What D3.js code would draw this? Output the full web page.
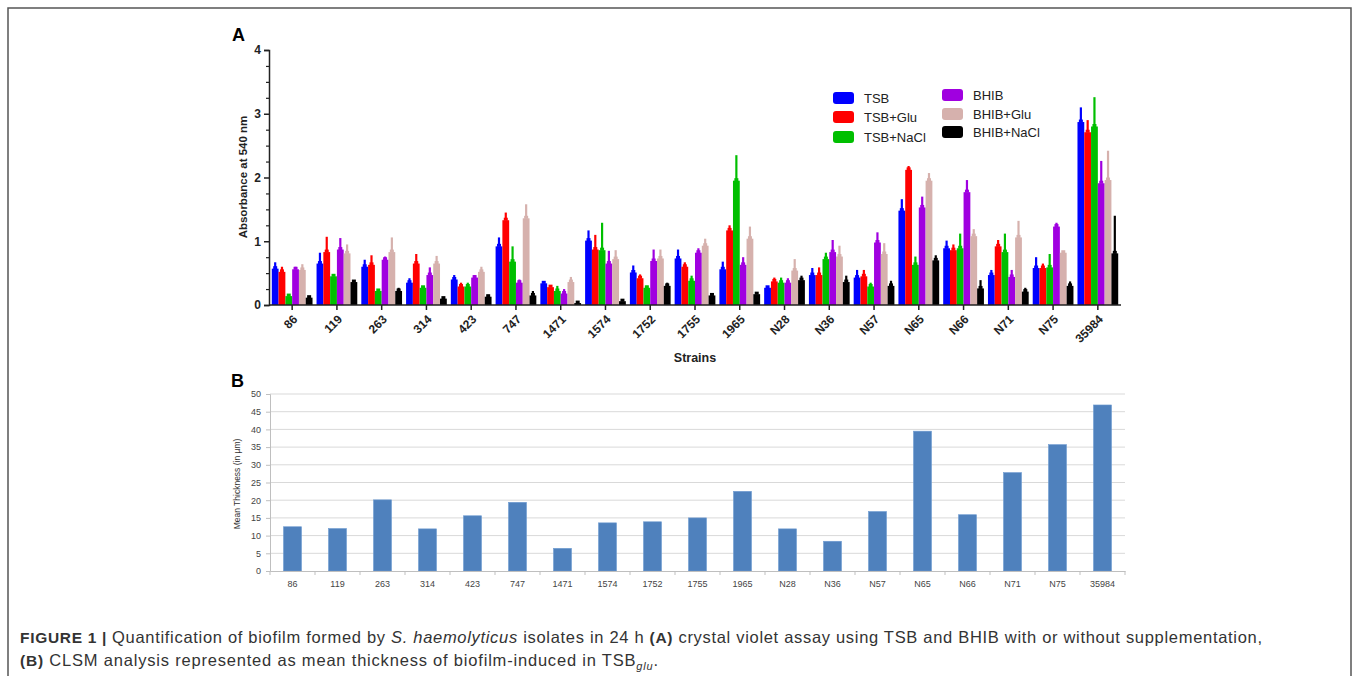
<!DOCTYPE html>
<html>
<head>
<meta charset="UTF-8">
<title>Figure 1</title>
<script src="https://cdn.jsdelivr.net/npm/d3@7"></script>
<style>
 body { margin: 0; background: #fff; }
 svg text { font-family: "Liberation Sans", Arial, sans-serif; }
</style>
</head>
<body>
<svg id="fig" width="1357" height="676"></svg>
<script>
// ---- data ----
var strains = ["86","119","263","314","423","747","1471","1574","1752","1755","1965","N28","N36","N57","N65","N66","N71","N75","35984"];
var seriesNames = ["TSB","TSB+Glu","TSB+NaCl","BHIB","BHIB+Glu","BHIB+NaCl"];
var seriesColors = ["#0000ff","#ff0000","#00bf00","#a000e0","#d6b1ad","#000000"];

var tsb      = [0.57,0.65,0.60,0.35,0.40,0.92,0.34,1.01,0.51,0.73,0.56,0.27,0.47,0.43,1.48,0.89,0.47,0.58,2.87];
var tsbErr   = [0.10,0.17,0.11,0.07,0.07,0.14,0.01,0.16,0.11,0.14,0.12,0.02,0.11,0.12,0.18,0.12,0.08,0.17,0.23];
var tsbGlu   = [0.52,0.83,0.63,0.65,0.29,1.33,0.28,0.87,0.42,0.60,1.17,0.37,0.47,0.45,2.12,0.86,0.92,0.58,2.71];
var tsbGluErr= [0.08,0.24,0.15,0.15,0.06,0.12,0.02,0.23,0.06,0.07,0.08,0.06,0.12,0.10,0.06,0.09,0.10,0.07,0.19];
var tsbNa    = [0.14,0.45,0.22,0.27,0.29,0.68,0.22,0.86,0.27,0.38,1.95,0.35,0.72,0.29,0.63,0.89,0.83,0.59,2.80];
var tsbNaErr = [0.02,0.03,0.03,0.02,0.06,0.24,0.08,0.43,0.03,0.08,0.40,0.08,0.10,0.06,0.13,0.23,0.29,0.21,0.46];
var bhib     = [0.56,0.87,0.71,0.47,0.43,0.35,0.18,0.65,0.69,0.82,0.63,0.35,0.83,0.98,1.53,1.77,0.44,1.23,1.91];
var bhibErr  = [0.04,0.18,0.05,0.12,0.04,0.05,0.07,0.20,0.18,0.07,0.12,0.07,0.19,0.16,0.17,0.19,0.11,0.06,0.35];
var bhibGlu  = [0.55,0.81,0.83,0.65,0.52,1.36,0.36,0.72,0.73,0.93,1.04,0.54,0.76,0.80,1.95,1.08,1.06,0.82,1.96];
var bhibGluErr=[0.09,0.14,0.23,0.12,0.08,0.22,0.08,0.14,0.14,0.11,0.19,0.18,0.17,0.17,0.12,0.11,0.26,0.01,0.46];
var bhibNa   = [0.115,0.36,0.22,0.10,0.13,0.15,0.03,0.06,0.30,0.15,0.17,0.39,0.36,0.30,0.70,0.26,0.21,0.30,0.81];
var bhibNaErr= [0.025,0.03,0.05,0.02,0.03,0.07,0.01,0.03,0.05,0.01,0.01,0.07,0.10,0.08,0.08,0.13,0.06,0.07,0.59];

var thickness = [12.5,12.0,20.1,11.9,15.6,19.4,6.4,13.6,13.9,15.0,22.5,11.9,8.4,16.8,39.5,15.9,27.8,35.7,46.9];

var absTicks = [0,1,2,3,4];
var thickTicks = [0,5,10,15,20,25,30,35,40,45,50];

var seriesVals = [tsb, tsbGlu, tsbNa, bhib, bhibGlu, bhibNa];
var seriesErrs = [tsbErr, tsbGluErr, tsbNaErr, bhibErr, bhibGluErr, bhibNaErr];

var svg = d3.select("#fig");

// figure frame
svg.append("rect").attr("x", 8).attr("y", 8).attr("width", 1343).attr("height", 680)
  .attr("fill", "none").attr("stroke", "#555").attr("stroke-width", 1.5);

// ================= panel A =================
var xA = d3.scaleBand().domain(strains).range([270, 1120]).paddingInner(0.09).paddingOuter(0.04);
var xSub = d3.scaleBand().domain(seriesNames).range([0, xA.bandwidth()]);
var yA = d3.scaleLinear().domain([0, 4]).range([305, 50]);

var rows = [];
strains.forEach(function(s, i) {
  seriesNames.forEach(function(k, j) {
    rows.push({strain: s, key: k, v: seriesVals[j][i], e: seriesErrs[j][i], c: seriesColors[j]});
  });
});

var gA = svg.append("g");
// error whiskers
gA.selectAll("line.err").data(rows).enter().append("line")
  .attr("x1", d => xA(d.strain) + xSub(d.key) + xSub.bandwidth() / 2)
  .attr("x2", d => xA(d.strain) + xSub(d.key) + xSub.bandwidth() / 2)
  .attr("y1", d => yA(d.v))
  .attr("y2", d => yA(d.v + d.e))
  .attr("stroke", d => d.c).attr("stroke-width", 2.2);
// little shoulder at bar top
gA.selectAll("rect.cap").data(rows).enter().append("rect")
  .attr("x", d => xA(d.strain) + xSub(d.key) + xSub.bandwidth() / 2 - 2)
  .attr("y", d => yA(d.v) - 2.5)
  .attr("width", 4).attr("height", 3)
  .attr("fill", d => d.c);
gA.selectAll("rect.bar").data(rows).enter().append("rect")
  .attr("x", d => xA(d.strain) + xSub(d.key))
  .attr("y", d => yA(d.v))
  .attr("width", xSub.bandwidth())
  .attr("height", d => yA(0) - yA(d.v))
  .attr("fill", d => d.c);

// y axis A
var yAxA = d3.axisLeft(yA).tickValues(absTicks).tickSize(5).tickFormat(d3.format("d"));
var gy = svg.append("g").attr("transform", "translate(269,0)").call(yAxA);
gy.selectAll(".tick text").attr("font-size", 12).attr("font-weight", "bold").attr("fill", "#222");
gy.select(".domain").attr("stroke", "#222").attr("stroke-width", 1.5);
gy.selectAll(".tick line").attr("stroke", "#222").attr("stroke-width", 1.5);
var minor = svg.append("g").attr("transform", "translate(269,0)")
  .call(d3.axisLeft(yA).tickValues(d3.range(0, 4, 0.25).filter(v => v % 1 !== 0)).tickSize(3).tickFormat(""));
minor.select(".domain").remove();
minor.selectAll(".tick line").attr("stroke", "#222").attr("stroke-width", 1.2);

// x axis A
var xAxA = d3.axisBottom(xA).tickSize(5).tickSizeOuter(0);
var gx = svg.append("g").attr("transform", "translate(0,305)").call(xAxA);
gx.select(".domain").attr("stroke", "#222").attr("stroke-width", 1.5).attr("d", "M269,0H1121");
gx.selectAll(".tick line").attr("stroke", "#222").attr("stroke-width", 1.5);
gx.selectAll(".tick text")
  .attr("font-size", 12).attr("font-weight", "bold").attr("fill", "#222")
  .attr("text-anchor", "end").attr("dy", 0).attr("y", 0)
  .attr("transform", "translate(6,15) rotate(-45)");

svg.append("text").attr("x", 695).attr("y", 362).attr("text-anchor", "middle")
  .attr("font-size", 12.5).attr("font-weight", "bold").attr("fill", "#222").text("Strains");
svg.append("text").attr("transform", "translate(247,177) rotate(-90)").attr("text-anchor", "middle")
  .attr("font-size", 11.5).attr("font-weight", "bold").attr("fill", "#222").text("Absorbance at 540 nm");
svg.append("text").attr("x", 232).attr("y", 41).attr("font-size", 18).attr("font-weight", "bold").text("A");

// legend A
var legPos = [[833,98],[833,117],[833,137],[942,95],[942,114],[942,132]];
var leg = svg.append("g").selectAll("g").data(seriesNames).enter().append("g")
  .attr("transform", (d, i) => "translate(" + legPos[i][0] + "," + legPos[i][1] + ")");
leg.append("rect").attr("x", 0).attr("y", -6).attr("width", 21).attr("height", 12).attr("rx", 3)
  .attr("fill", (d, i) => seriesColors[i]);
leg.append("text").attr("x", 31).attr("y", 5).attr("font-size", 13).attr("fill", "#222").text(d => d);

// ================= panel B =================
var xB = d3.scaleBand().domain(strains).range([270, 1125]).paddingInner(0.6).paddingOuter(0.3);
var xBedge = d3.scaleBand().domain(strains).range([270, 1125]);
var yB = d3.scaleLinear().domain([0, 50]).range([571, 394]);

svg.append("g").selectAll("line").data(thickTicks.slice(1)).enter().append("line")
  .attr("x1", 270).attr("x2", 1125).attr("y1", d => yB(d)).attr("y2", d => yB(d))
  .attr("stroke", "#d9d9d9").attr("stroke-width", 1);

svg.append("g").selectAll("rect").data(thickness).enter().append("rect")
  .attr("x", (d, i) => xB(strains[i]))
  .attr("y", d => yB(d))
  .attr("width", xB.bandwidth())
  .attr("height", d => yB(0) - yB(d))
  .attr("fill", "#4f81bd").attr("stroke", "#6f9bd1").attr("stroke-width", 0.6);

var gyB = svg.append("g").attr("transform", "translate(270,0)")
  .call(d3.axisLeft(yB).tickValues(thickTicks).tickSize(4).tickPadding(5));
gyB.select(".domain").attr("stroke", "#bfbfbf");
gyB.selectAll(".tick line").attr("stroke", "#bfbfbf");
gyB.selectAll(".tick text").attr("font-size", 9).attr("fill", "#444").attr("font-family", "'Open Sans', sans-serif");

var gxB = svg.append("g").attr("transform", "translate(0,571)")
  .call(d3.axisBottom(xBedge).tickSize(0).tickPadding(10).tickSizeOuter(0));
gxB.select(".domain").attr("stroke", "#bfbfbf");
gxB.selectAll(".tick text").attr("font-size", 9).attr("fill", "#444").attr("font-family", "'Open Sans', sans-serif");
svg.append("g").selectAll("line").data(strains.concat(["end"])).enter().append("line")
  .attr("x1", (d, i) => 270 + i * xBedge.step()).attr("x2", (d, i) => 270 + i * xBedge.step())
  .attr("y1", 571).attr("y2", 575).attr("stroke", "#bfbfbf");

svg.append("text").attr("transform", "translate(240,484) rotate(-90)").attr("text-anchor", "middle")
  .attr("font-size", 8.5).attr("fill", "#333").attr("font-family", "'Liberation Sans Narrow', 'Open Sans', sans-serif")
  .text("Mean Thickness (in \u00b5m)");
svg.append("text").attr("x", 231).attr("y", 387).attr("font-size", 18).attr("font-weight", "bold").text("B");

// ================= caption =================
var cap1 = svg.append("text").attr("x", 20).attr("y", 643).attr("font-size", 16.5).attr("fill", "#333")
  .attr("textLength", 1242).attr("lengthAdjust", "spacing");
cap1.append("tspan").attr("font-weight", "bold").attr("font-size", 15.5).text("FIGURE 1 | ");
cap1.append("tspan").text("Quantification of biofilm formed by ");
cap1.append("tspan").attr("font-style", "italic").text("S. haemolyticus");
cap1.append("tspan").text(" isolates in 24 h ");
cap1.append("tspan").attr("font-weight", "bold").attr("font-size", 15.5).text("(A)");
cap1.append("tspan").text(" crystal violet assay using TSB and BHIB with or without supplementation,");

var cap2 = svg.append("text").attr("x", 20).attr("y", 666).attr("font-size", 16.5).attr("fill", "#333")
  .attr("textLength", 638).attr("lengthAdjust", "spacing");
cap2.append("tspan").attr("font-weight", "bold").attr("font-size", 15.5).text("(B)");
cap2.append("tspan").text(" CLSM analysis represented as mean thickness of biofilm-induced in TSB");
cap2.append("tspan").attr("font-style", "italic").attr("font-size", 11).attr("dy", 4).text("glu");
cap2.append("tspan").attr("dy", -4).text(".");
</script>
</body>
</html>
